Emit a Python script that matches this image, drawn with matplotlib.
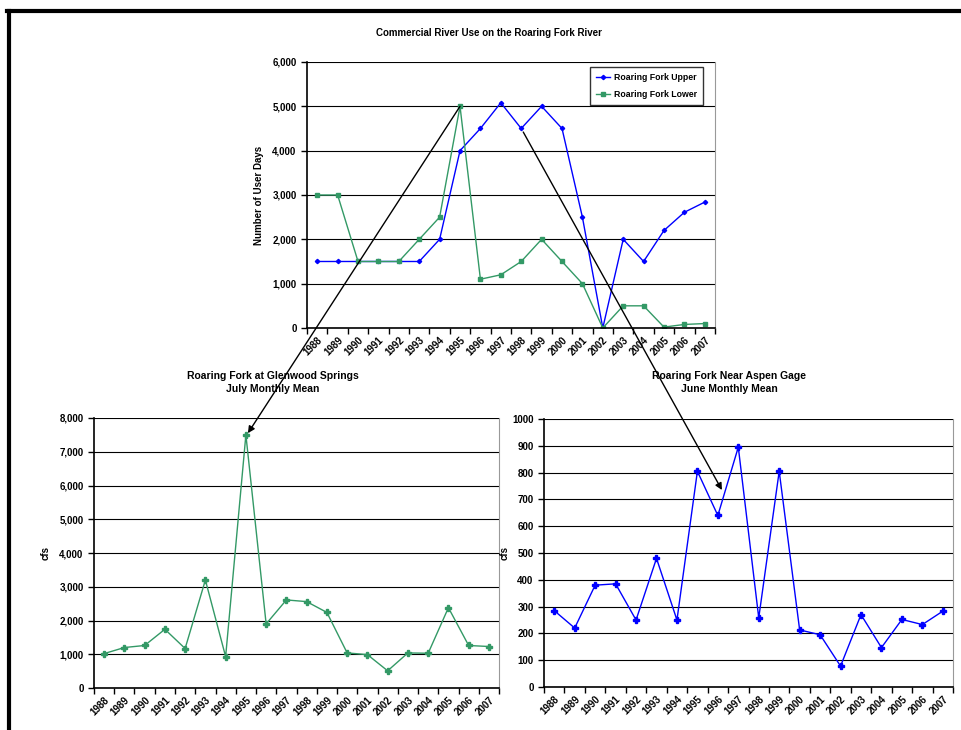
import matplotlib
matplotlib.use("Agg")
import matplotlib.pyplot as plt
from matplotlib.lines import Line2D
from matplotlib.patches import ConnectionPatch
from matplotlib.ticker import FuncFormatter
import numpy as np

plt.rcParams["font.family"] = ["Liberation Sans", "DejaVu Sans"]
plt.rcParams["font.weight"] = "bold"

years = [str(y) for y in range(1988, 2008)]

# commercial user days
upper_user_days = [1500, 1500, 1500, 1500, 1500, 1500, 2000, 4000, 4500, 5080,
                   4500, 5000, 4500, 2500, 0, 2000, 1500, 2200, 2610, 2840]
lower_user_days = [3000, 3000, 1500, 1500, 1500, 2000, 2500, 5000, 1100, 1200,
                   1500, 2000, 1500, 1000, 0, 500, 500, 20, 80, 100]

# gage flows (cfs)
glenwood_july = [1020, 1200, 1260, 1740, 1170, 3200, 930, 7500, 1900, 2610,
                 2560, 2240, 1040, 990, 510, 1040, 1030, 2380, 1260, 1230]
aspen_june = [285, 220, 380, 385, 250, 480, 250, 805, 640, 895,
              258, 805, 213, 195, 78, 270, 147, 252, 233, 283]

BLUE = "#0000ff"
GREEN = "#339966"

fig = plt.figure(figsize=(9.61, 7.30), dpi=100)


def style_axes(ax, values, ymax, ystep, fmt, color, marker, ms, label=None):
    x = np.arange(len(years))
    ax.plot(x, values, color=color, marker=marker, ms=ms, lw=1.0, label=label)
    ax.set_xlim(-0.5, len(years) - 0.5)
    ax.set_ylim(0, ymax)
    ax.set_yticks(np.arange(0, ymax + ystep, ystep))
    ax.yaxis.set_major_formatter(FuncFormatter(fmt))
    ax.set_xticks(x)
    ax.set_xticklabels(years, rotation=45, ha="right", rotation_mode="anchor",
                       fontsize=7, fontweight="bold")
    ax.set_xticks(np.arange(-0.5, len(years)), minor=True)
    ax.tick_params(axis="x", which="major", length=0, pad=5)
    ax.tick_params(axis="x", which="minor", length=4, width=1, direction="out")
    ax.tick_params(axis="y", length=4, width=1, direction="out", labelsize=7)
    for lab in ax.get_yticklabels():
        lab.set_fontweight("bold")
    ax.grid(axis="y", color="black", lw=0.8)
    ax.set_axisbelow(True)
    ax.spines["top"].set_visible(False)
    ax.spines["right"].set_color("#999999")
    ax.spines["right"].set_linewidth(0.8)
    ax.spines["left"].set_linewidth(1.2)
    ax.spines["bottom"].set_linewidth(1.2)


comma = lambda v, pos: f"{int(v):,}"
plain = lambda v, pos: f"{int(v)}"

# top: commercial use
ax_top = fig.add_axes([0.3195, 0.5507, 0.4245, 0.3644])
style_axes(ax_top, upper_user_days, 6000, 1000, comma, BLUE, "D", 2.2,
           label="Roaring Fork Upper")
ax_top.plot(np.arange(len(years)), lower_user_days, color=GREEN, marker="s",
            ms=2.2, lw=1.0, label="Roaring Fork Lower")
ax_top.set_ylabel("Number of User Days", fontsize=7, fontweight="bold", labelpad=6)
leg = ax_top.legend(loc="upper right", bbox_to_anchor=(0.971, 0.981),
                    borderaxespad=0, fontsize=6.3, frameon=True, fancybox=False,
                    handlelength=1.5, handletextpad=0.5, borderpad=0.7,
                    labelspacing=0.9)
leg.get_frame().set_edgecolor("black")
leg.get_frame().set_linewidth(1.0)
for t in leg.get_texts():
    t.set_fontweight("bold")
fig.text(0.509, 0.955, "Commercial River Use on the Roaring Fork River",
         ha="center", va="center", fontsize=7, fontweight="bold")

# bottom left: Glenwood Springs
ax_gw = fig.add_axes([0.0978, 0.0575, 0.4215, 0.3699])
style_axes(ax_gw, glenwood_july, 8000, 1000, comma, GREEN, "P", 4.5)
ax_gw.set_ylabel("cfs", fontsize=7, fontweight="bold", labelpad=6)
fig.text(0.2835, 0.476, "Roaring Fork at Glenwood Springs\nJuly Monthly Mean",
         ha="center", va="center", fontsize=7.5, fontweight="bold",
         linespacing=1.35)

# bottom right: Aspen gage
ax_as = fig.add_axes([0.5661, 0.0589, 0.4256, 0.3671])
style_axes(ax_as, aspen_june, 1000, 100, plain, BLUE, "P", 4.5)
ax_as.set_ylabel("cfs", fontsize=7, fontweight="bold", labelpad=2)
fig.text(0.759, 0.476, "Roaring Fork Near Aspen Gage\nJune Monthly Mean",
         ha="center", va="center", fontsize=7.5, fontweight="bold",
         linespacing=1.35)

# arrows linking the 1995 peak and the late-90s upper use to the gages
arr1 = ConnectionPatch(xyA=(7, 5000), coordsA=ax_top.transData,
                       xyB=(7.1, 7550), coordsB=ax_gw.transData,
                       arrowstyle="-|>", mutation_scale=10, lw=1.0, color="black",
                       shrinkA=0, shrinkB=0)
fig.add_artist(arr1)
arr2 = ConnectionPatch(xyA=(10.1, 4420), coordsA=ax_top.transData,
                       xyB=(8.2, 735), coordsB=ax_as.transData,
                       arrowstyle="-|>", mutation_scale=10, lw=1.0, color="black",
                       shrinkA=0, shrinkB=0)
fig.add_artist(arr2)

# page frame
fig.add_artist(Line2D([0.0073, 1.0], [0.985, 0.985], color="black", lw=3.0,
                      transform=fig.transFigure))
fig.add_artist(Line2D([0.0094, 0.0094], [0.0, 0.985], color="black", lw=3.0,
                      transform=fig.transFigure))

fig.savefig("out.png", dpi=100)
